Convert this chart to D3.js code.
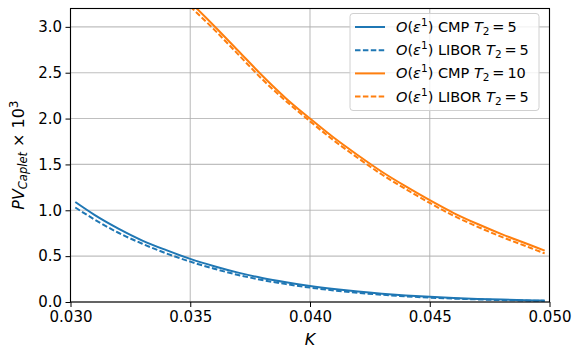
<!DOCTYPE html>
<html>
<head>
<meta charset="utf-8">
<script src="https://cdn.jsdelivr.net/npm/d3@7"></script>
<style>
  body { margin: 0; background: #fff; }
  svg { font-family: "DejaVu Sans", sans-serif; }
</style>
</head>
<body>
<svg id="chart" width="582" height="358"></svg>
<script>
// strike values K
const kBlue = [0.0302, 0.031, 0.032, 0.033, 0.034, 0.035, 0.036, 0.037, 0.038, 0.039, 0.040,
               0.041, 0.042, 0.043, 0.044, 0.045, 0.046, 0.047, 0.048, 0.049, 0.0498];
const cmpT5 = [1.09, 0.95, 0.80, 0.67, 0.565, 0.47, 0.39, 0.32, 0.262, 0.215, 0.175,
               0.142, 0.114, 0.091, 0.072, 0.056, 0.044, 0.034, 0.026, 0.02, 0.016];
const liborT5 = [1.03, 0.90, 0.755, 0.635, 0.53, 0.44, 0.363, 0.295, 0.24, 0.195, 0.157,
                 0.126, 0.10, 0.079, 0.062, 0.048, 0.037, 0.028, 0.021, 0.016, 0.012];

const kOrange = [0.035, 0.036, 0.037, 0.038, 0.039, 0.040, 0.041, 0.042, 0.043, 0.044,
                 0.045, 0.046, 0.047, 0.048, 0.049, 0.0498];
const cmpT10 = [3.27, 3.01, 2.74, 2.47, 2.22, 2.00, 1.79, 1.60, 1.42, 1.26,
                1.11, 0.97, 0.85, 0.74, 0.64, 0.56];
const liborT10 = [3.22, 2.97, 2.70, 2.43, 2.19, 1.97, 1.76, 1.57, 1.39, 1.23,
                  1.08, 0.94, 0.82, 0.71, 0.61, 0.53];

const xTicks = [0.030, 0.035, 0.040, 0.045, 0.050];
const yTicks = [0.0, 0.5, 1.0, 1.5, 2.0, 2.5, 3.0];

const blue = '#1f77b4', orange = '#ff7f0e';
const dash = '5.5,2.4';

const series = [
  { k: kBlue, v: cmpT5, color: blue, dashed: false, label: ['CMP', '5'] },
  { k: kBlue, v: liborT5, color: blue, dashed: true, label: ['LIBOR', '5'] },
  { k: kOrange, v: cmpT10, color: orange, dashed: false, label: ['CMP', '10'] },
  { k: kOrange, v: liborT10, color: orange, dashed: true, label: ['LIBOR', '5'] }
];

const margin = { top: 8.5, right: 32.5, bottom: 56, left: 70.5 };
const width = 582 - margin.left - margin.right;
const height = 358 - margin.top - margin.bottom;

const svg = d3.select('#chart');
const g = svg.append('g').attr('transform', `translate(${margin.left},${margin.top})`);

const x = d3.scaleLinear().domain([0.030, 0.050]).range([0, width]);
const y = d3.scaleLinear().domain([0, 3.2]).range([height, 0]);

svg.append('defs').append('clipPath').attr('id', 'plotclip')
  .append('rect').attr('width', width).attr('height', height);

// grid
g.append('g').selectAll('line').data(xTicks).enter().append('line')
  .attr('x1', d => x(d)).attr('x2', d => x(d))
  .attr('y1', 0).attr('y2', height)
  .attr('stroke', '#b0b0b0').attr('stroke-width', 1.1).attr('opacity', 0.8);
g.append('g').selectAll('line').data(yTicks).enter().append('line')
  .attr('y1', d => y(d)).attr('y2', d => y(d))
  .attr('x1', 0).attr('x2', width)
  .attr('stroke', '#b0b0b0').attr('stroke-width', 1.1).attr('opacity', 0.8);

// curves
const line = d3.line().curve(d3.curveMonotoneX);
g.append('g').attr('clip-path', 'url(#plotclip)')
  .selectAll('path').data(series).enter().append('path')
  .attr('d', s => line(s.k.map((k, i) => [x(k), y(s.v[i])])))
  .attr('fill', 'none')
  .attr('stroke', s => s.color)
  .attr('stroke-width', 2)
  .attr('stroke-dasharray', s => s.dashed ? dash : null);

// axes
const xAxis = g.append('g').attr('transform', `translate(0,${height})`)
  .call(d3.axisBottom(x).tickValues(xTicks).tickFormat(d3.format('.3f')).tickSizeOuter(0).tickSize(5).tickPadding(4));
const yAxis = g.append('g')
  .call(d3.axisLeft(y).tickValues(yTicks).tickFormat(d3.format('.1f')).tickSizeOuter(0).tickSize(5).tickPadding(3.5));
[xAxis, yAxis].forEach(a => {
  a.selectAll('text').attr('font-size', 15).attr('fill', '#000').attr('font-family', '"DejaVu Sans", sans-serif');
  a.selectAll('.tick line').attr('stroke', '#000').attr('stroke-width', 1);
  a.select('.domain').remove();
});

// frame
g.append('rect').attr('width', width).attr('height', height)
  .attr('fill', 'none').attr('stroke', '#000').attr('stroke-width', 1.1);

// axis labels
const xl = svg.append('text')
  .attr('x', margin.left + width / 2).attr('y', 345)
  .attr('text-anchor', 'middle').attr('font-size', 16);
xl.append('tspan').attr('font-style', 'italic').text('K');

const yl = svg.append('text')
  .attr('transform', `translate(24,${margin.top + height / 2}) rotate(-90)`)
  .attr('text-anchor', 'middle').attr('font-size', 16);
yl.append('tspan').attr('font-style', 'italic').text('PV');
yl.append('tspan').attr('font-style', 'italic').attr('font-size', 11.5).attr('dy', 3).text('Caplet');
yl.append('tspan').attr('dy', -3).text(' \u00d7 10');
yl.append('tspan').attr('font-size', 11.5).attr('dy', -6).text('3');

// legend
const leg = svg.append('g').attr('transform', 'translate(350,13.5)');
leg.append('rect').attr('width', 189).attr('height', 97).attr('rx', 3)
  .attr('fill', '#fff').attr('fill-opacity', 0.8)
  .attr('stroke', '#d0d0d0').attr('stroke-width', 1);
const rows = leg.selectAll('g.row').data(series).enter().append('g')
  .attr('transform', (d, i) => `translate(0,${13.5 + i * 23.2})`);
rows.append('line').attr('x1', 5).attr('x2', 35).attr('y1', 0).attr('y2', 0)
  .attr('stroke', d => d.color).attr('stroke-width', 2)
  .attr('stroke-dasharray', d => d.dashed ? dash : null);
const lt = rows.append('text').attr('x', 46).attr('y', 5).attr('font-size', 14.5);
lt.append('tspan').attr('font-style', 'italic').text('O');
lt.append('tspan').text('(');
lt.append('tspan').attr('font-style', 'italic').text('\u03b5');
lt.append('tspan').attr('font-size', 10.5).attr('dy', -6).text('1');
lt.append('tspan').attr('dy', 6).text(d => ') ' + d.label[0] + ' ');
lt.append('tspan').attr('font-style', 'italic').text('T');
lt.append('tspan').attr('font-size', 10.5).attr('dy', 3).text('2');
lt.append('tspan').attr('dy', -3).text(d => '\u2009=\u2009' + d.label[1]);
</script>
</body>
</html>
